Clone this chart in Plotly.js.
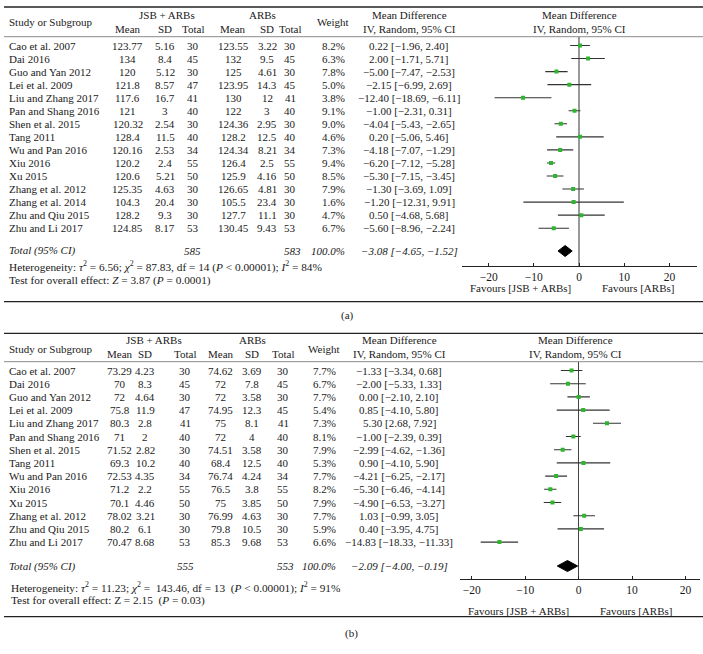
<!DOCTYPE html>
<html><head><meta charset="utf-8">
<script src="https://cdn.plot.ly/plotly-3.0.1.min.js"></script>
<style>body{margin:0;background:#fff}#chart{width:703px;height:654px}</style>
</head><body><div id="chart"></div>
<script>
// ---------- DATA: panel (a) ----------
const studiesA = ["Cao et al. 2007","Dai 2016","Guo and Yan 2012","Lei et al. 2009","Liu and Zhang 2017","Pan and Shang 2016","Shen et al. 2015","Tang 2011","Wu and Pan 2016","Xiu 2016","Xu 2015","Zhang et al. 2012","Zhang et al. 2014","Zhu and Qiu 2015","Zhu and Li 2017"];
const jsbMeanA = [123.77,134,120,121.8,117.6,121,120.32,128.4,120.16,120.2,120.6,125.35,104.3,128.2,124.85];
const jsbSDA   = [5.16,8.4,5.12,8.57,16.7,3,2.54,11.5,2.53,2.4,5.21,4.63,20.4,9.3,8.17];
const jsbNA    = [30,45,30,47,41,40,30,40,34,55,50,30,30,30,53];
const arbMeanA = [123.55,132,125,123.95,130,122,124.36,128.2,124.34,126.4,125.9,126.65,105.5,127.7,130.45];
const arbSDA   = [3.22,9.5,4.61,14.3,12,3,2.95,12.5,8.21,2.5,4.16,4.81,23.4,11.1,9.43];
const arbNA    = [30,45,30,45,41,40,30,40,34,55,50,30,30,30,53];
const weightA  = [8.2,6.3,7.8,5.0,3.8,9.1,9.0,4.6,7.3,9.4,8.5,7.9,1.6,4.7,6.7];
const mdA      = [0.22,2.00,-5.00,-2.15,-12.40,-1.00,-4.04,0.20,-4.18,-6.20,-5.30,-1.30,-1.20,0.50,-5.60];
const loA      = [-1.96,-1.71,-7.47,-6.99,-18.69,-2.31,-5.43,-5.06,-7.07,-7.12,-7.15,-3.69,-12.31,-4.68,-8.96];
const hiA      = [2.40,5.71,-2.53,2.69,-6.11,0.31,-2.65,5.46,-1.29,-5.28,-3.45,1.09,9.91,5.68,-2.24];
const totalA   = {jsbN:585, arbN:583, weight:100.0, md:-3.08, lo:-4.65, hi:-1.52};
const hetA  = "Heterogeneity: <i>τ</i><sup>2</sup> = 6.56; <i>χ</i><sup>2</sup> = 87.83, df = 14 (<i>P</i> &lt; 0.00001); <i>I</i><sup>2</sup> = 84%";
const testA = "Test for overall effect: <i>Z</i> = 3.87 (<i>P</i> = 0.0001)";

// ---------- DATA: panel (b) ----------
const studiesB = ["Cao et al. 2007","Dai 2016","Guo and Yan 2012","Lei et al. 2009","Liu and Zhang 2017","Pan and Shang 2016","Shen et al. 2015","Tang 2011","Wu and Pan 2016","Xiu 2016","Xu 2015","Zhang et al. 2012","Zhu and Qiu 2015","Zhu and Li 2017"];
const jsbMeanB = [73.29,70,72,75.8,80.3,71,71.52,69.3,72.53,71.2,70.1,78.02,80.2,70.47];
const jsbSDB   = [4.23,8.3,4.64,11.9,2.8,2,2.82,10.2,4.35,2.2,4.46,3.21,6.1,8.68];
const jsbNB    = [30,45,30,47,41,40,30,40,34,55,50,30,30,53];
const arbMeanB = [74.62,72,72,74.95,75,72,74.51,68.4,76.74,76.5,75,76.99,79.8,85.3];
const arbSDB   = [3.69,7.8,3.58,12.3,8.1,4,3.58,12.5,4.24,3.8,3.85,4.63,10.5,9.68];
const arbNB    = [30,45,30,45,41,40,30,40,34,55,50,30,30,53];
const weightB  = [7.7,6.7,7.7,5.4,7.3,8.1,7.9,5.3,7.7,8.2,7.9,7.7,5.9,6.6];
const mdB      = [-1.33,-2.00,0.00,0.85,5.30,-1.00,-2.99,0.90,-4.21,-5.30,-4.90,1.03,0.40,-14.83];
const loB      = [-3.34,-5.33,-2.10,-4.10,2.68,-2.39,-4.62,-4.10,-6.25,-6.46,-6.53,-0.99,-3.95,-18.33];
const hiB      = [0.68,1.33,2.10,5.80,7.92,0.39,-1.36,5.90,-2.17,-4.14,-3.27,3.05,4.75,-11.33];
const totalB   = {jsbN:555, arbN:553, weight:100.0, md:-2.09, lo:-4.00, hi:-0.19};
const hetB  = "Heterogeneity: <i>τ</i><sup>2</sup> = 11.23; <i>χ</i><sup>2</sup> =\u00a0 143.46, df = 13\u00a0 (<i>P</i> &lt; 0.00001); <i>I</i><sup>2</sup> = 91%";
const testB = "Test for overall effect: Z = 2.15\u00a0 (<i>P</i> = 0.03)";

const tickVals = [-20,-10,0,10,20];
const favLeft = "Favours [JSB + ARBs]", favRight = "Favours [ARBs]";

// ---------- rendering ----------
const W = 703, H = 654;
const FONT = "Liberation Serif, Times New Roman, serif";
const FS = 11, FS_HET = 11.3;
const GREEN = "#2db52d";
const px = x => x / W, py = y => 1 - y / H;
const neg = s => s.replace(/-/g, "\u2212");
const f2 = v => neg(v.toFixed(2));
const ciText = (m, l, h) => f2(m) + " [" + f2(l) + ", " + f2(h) + "]";

const annotations = [], shapes = [], traces = [];
function txt(x, y, text, anchor, size) {
  annotations.push({xref:"paper", yref:"paper", x:px(x), y:py(y), text:text,
    xanchor:anchor || "center", yanchor:"middle", showarrow:false,
    font:{family:FONT, size:size || FS, color:"#1a1a1a"}});
}
function hline(y, x0, x1, color, width) {
  shapes.push({type:"line", xref:"paper", yref:"paper", x0:px(x0), x1:px(x1), y0:py(y), y1:py(y),
    line:{color:color, width:width}});
}

const layout = {width:W, height:H, margin:{l:0,r:0,t:0,b:0}, paper_bgcolor:"#fff", plot_bgcolor:"rgba(0,0,0,0)",
  showlegend:false, annotations:annotations, shapes:shapes};

function panel(P, d) {
  const rowY = i => P.row0 + P.rowStep * i;
  hline(P.topLine, 4, 703, "#222", 1.3);
  hline(P.headLine, 4, 703, "#8a8a8a", 1);
  hline(P.botLine, 4, 703, "#222", 1.3);
  const c = P.cols;
  txt(7, P.hMid, "Study or Subgroup", "left");
  txt(c.g1, P.h1, "JSB + ARBs"); txt(c.g2, P.h1, "ARBs");
  txt(c.m1, P.h2, "Mean"); txt(c.s1, P.h2, "SD"); txt(c.n1, P.h2, "Total");
  txt(c.m2, P.h2, "Mean"); txt(c.s2, P.h2, "SD"); txt(c.n2, P.h2, "Total");
  txt(c.w, P.hMid, "Weight");
  txt(c.ci, P.h1, "Mean Difference"); txt(c.ci, P.h2, "IV, Random, 95% CI");
  txt(P.plotHead, P.h1, "Mean Difference"); txt(P.plotHead, P.h2, "IV, Random, 95% CI");
  d.studies.forEach((s, i) => {
    const y = rowY(i);
    txt(7, y, s, "left");
    txt(c.m1, y, String(d.jsbMean[i])); txt(c.s1, y, String(d.jsbSD[i])); txt(c.n1, y, String(d.jsbN[i]));
    txt(c.m2, y, String(d.arbMean[i])); txt(c.s2, y, String(d.arbSD[i])); txt(c.n2, y, String(d.arbN[i]));
    txt(c.w, y, d.weight[i].toFixed(1) + "%");
    txt(c.ci, y, ciText(d.md[i], d.lo[i], d.hi[i]));
  });
  const t = d.total;
  txt(7, P.totY, "<i>Total (95% CI)</i>", "left");
  txt(c.tn1, P.totY, "<i>" + t.jsbN + "</i>");
  txt(c.tn2, P.totY, "<i>" + t.arbN + "</i>");
  txt(c.tw, P.totY, "<i>" + t.weight.toFixed(1) + "%</i>");
  txt(c.ci, P.totY, "<i>" + ciText(t.md, t.lo, t.hi) + "</i>");
  txt(P.hetX, P.hetY, d.het, "left", FS_HET);
  txt(P.hetX, P.testY, d.test, "left", FS_HET);
  txt(P.favL, P.favY, favLeft); txt(P.favR, P.favY, favRight);
  txt(P.labX, P.labY, P.label);

  const ys = d.studies.map((s, i) => rowY(i));
  traces.push({type:"scatter", mode:"markers", x:d.md, y:ys, xaxis:P.xa, yaxis:P.ya,
    marker:{symbol:"square", size:4, color:GREEN, line:{width:0}},
    error_x:{type:"data", symmetric:false,
      array:d.md.map((m, i) => d.hi[i] - m), arrayminus:d.md.map((m, i) => m - d.lo[i]),
      width:0, thickness:1.1, color:"#333"},
    hoverinfo:"skip"});
  const hh = P.diaHalf;
  traces.push({type:"scatter", mode:"lines", x:[t.lo, t.md, t.hi, t.md, t.lo], y:[P.totY, P.totY - hh, P.totY, P.totY + hh, P.totY],
    xaxis:P.xa, yaxis:P.ya, fill:"toself", fillcolor:"#000", line:{color:"#000", width:1}, hoverinfo:"skip"});

  layout[P.xkey] = {domain:[px(P.plotX0), px(P.plotX1)], range:P.xRange, anchor:P.ya,
    tickvals:tickVals, ticktext:tickVals.map(v => neg(String(v))), ticks:"inside", ticklen:3, tickcolor:"#222",
    showline:true, linecolor:"#222", linewidth:1, showgrid:false,
    zeroline:true, zerolinecolor:P.zeroColor, zerolinewidth:P.zeroWidth,
    tickfont:{family:FONT, size:11.5, color:"#1a1a1a"}, fixedrange:true};
  layout[P.ykey] = {domain:[py(P.axisY), py(P.headLine)], range:[P.axisY, P.headLine], anchor:P.xa,
    visible:false, showgrid:false, zeroline:false, fixedrange:true};
}

panel({
  xa:"x", ya:"y", xkey:"xaxis", ykey:"yaxis", label:"(a)",
  topLine:7, headLine:36.7, botLine:301.7, h1:15, h2:29.5, hMid:22.5,
  row0:45.5, rowStep:13.05, totY:251, hetX:7, hetY:266.5, testY:280.5,
  cols:{g1:167, g2:262.5, m1:127.5, s1:165, n1:193, m2:233, s2:267, n2:290, w:333, ci:409, tn1:192, tn2:292, tw:328},
  plotHead:579, plotX0:462, plotX1:697, axisY:265.7, xRange:[-25.9, 26.1],
  favL:520, favR:638, favY:288, labX:347, labY:315, diaHalf:5.5,
  zeroColor:"#999", zeroWidth:2
}, {studies:studiesA, jsbMean:jsbMeanA, jsbSD:jsbSDA, jsbN:jsbNA, arbMean:arbMeanA, arbSD:arbSDA, arbN:arbNA,
    weight:weightA, md:mdA, lo:loA, hi:hiA, total:totalA, het:hetA, test:testA});

panel({
  xa:"x2", ya:"y2", xkey:"xaxis2", ykey:"yaxis2", label:"(b)",
  topLine:333.3, headLine:361.7, botLine:616.7, h1:340, h2:354, hMid:349,
  row0:370.5, rowStep:13.2, totY:566, hetX:9, hetY:587, testY:600.5,
  cols:{g1:154, g2:252, m1:120, s1:145, n1:185, m2:221, s2:252, n2:283, w:324, ci:399, tn1:185, tn2:285, tw:319},
  plotHead:575, plotX0:460, plotX1:700, axisY:579.3, xRange:[-22.2, 22.7],
  favL:518, favR:636, favY:610.5, labX:351, labY:633, diaHalf:5.5,
  zeroColor:"#444", zeroWidth:1
}, {studies:studiesB, jsbMean:jsbMeanB, jsbSD:jsbSDB, jsbN:jsbNB, arbMean:arbMeanB, arbSD:arbSDB, arbN:arbNB,
    weight:weightB, md:mdB, lo:loB, hi:hiB, total:totalB, het:hetB, test:testB});

Plotly.newPlot("chart", traces, layout, {displayModeBar:false, staticPlot:true});
</script>
</body></html>
